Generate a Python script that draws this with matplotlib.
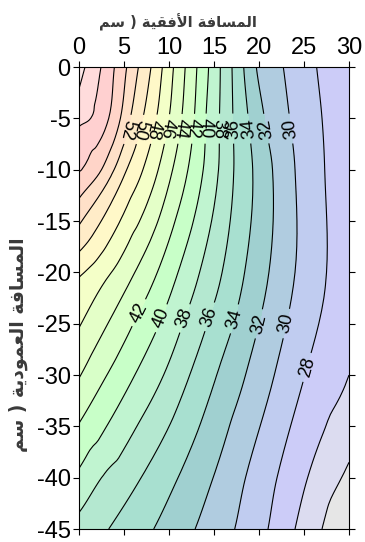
import numpy as np
import matplotlib
matplotlib.use("Agg")
import matplotlib.pyplot as plt
import matplotlib.tri as mtri

plt.rcParams["font.family"] = ["Liberation Sans", "DejaVu Sans"]
plt.rcParams["axes.unicode_minus"] = False

# ── data ─────────────────────────────────────────────────────────────────────
# depth rows (cm) and the horizontal distance (cm) where each contour crosses them
row_depths = [0, -5, -10, -20, -30, -40, -45]
row_levels = [
    [60, 58, 56, 54, 52, 50, 48, 46, 44, 42, 40, 38, 36, 34, 32, 30, 28],
    [58, 56, 54, 52, 50, 48, 46, 44, 42, 40, 38, 36, 34, 32, 30, 28],
    [56, 54, 52, 50, 48, 46, 44, 42, 40, 38, 36, 34, 32, 30, 28],
    [48, 46, 44, 42, 40, 38, 36, 34, 32, 30, 28],
    [44, 42, 40, 38, 36, 34, 32, 30, 28],
    [38, 36, 34, 32, 30, 28, 26],
    [36, 34, 32, 30, 28, 26, 24],
]
row_x = [
    [0.67, 2.44, 3.93, 5.3, 6.6, 8.0, 9.26, 10.5, 11.8, 13.1, 14.4, 15.7, 17.0, 18.3, 19.7, 22.7, 26.4],
    [1.3, 3.3, 4.6, 5.7, 7.1, 8.6, 10.0, 11.4, 12.8, 14.1, 15.6, 17.1, 18.8, 20.6, 23.4, 27.0],
    [0.3, 2.5, 3.9, 5.3, 7.1, 8.8, 10.4, 12.1, 13.8, 15.5, 17.2, 19.3, 21.5, 24.0, 27.3],
    [0.6, 3.6, 6.2, 8.7, 11.0, 13.4, 15.9, 18.4, 21.1, 24.0, 27.5],
    [0.2, 3.1, 6.2, 9.4, 12.3, 15.3, 18.5, 21.7, 25.1],
    [2.5, 6.9, 11.0, 14.9, 18.5, 22.0, 25.4],
    [3.3, 8.3, 12.9, 17.3, 21.0, 24.0, 27.0],
]
# values met along the left (x=0) and right (x=30) borders: depth, value
left_depth = [0, -2.1, -5.8, -10.2, -12.8, -15.4, -18.0, -20.5, -25.4, -30.3, -34.7, -39.1, -43.4, -45]
left_value = [61.5, 60, 58, 56, 54, 52, 50, 48, 46, 44, 42, 40, 38, 37.3]
right_depth = [0, -5, -10, -20, -30.0, -38.5, -45]
right_value = [26.1, 26.3, 26.4, 26.5, 26, 24, 22.0]

# contour labels (x, y)
label_x = [5.0, 6.4, 8.0, 9.5, 11.0, 12.5, 14.0, 15.6, 17.1, 18.9, 20.8, 23.5,
           6.8, 9.2, 11.8, 14.4, 17.1, 19.9, 23.1, 25.5]
label_y = [-6, -6, -6, -6, -6, -6, -6, -6, -6, -6, -6, -6,
           -24.0, -24.5, -24.5, -24.3, -24.5, -25.0, -25.0, -29.3]

band_colors = ["#e6e6e6", "#dcdcf0", "#ccccf8", "#c0ccf0", "#b0cce0", "#a0d0d0",
               "#a8e0d0", "#b4e8d0", "#c0f4d0", "#c8ffc8", "#d8ffc8", "#e4ffc8",
               "#f4ffc8", "#fff8c8", "#ffecc8", "#ffe0c8", "#ffd4c8", "#ffd0d0",
               "#ffdcdc", "#fde8e8", "#fff0f0"]

# Arabic axis titles, written in visual (left-to-right) order with joined letter forms
xlabel_ar = "ﻢﺳ ) ﺔﻴﻘﻓﻷﺍ ﺔﻓﺎﺴﻤﻟﺍ"
ylabel_ar = "ﻢﺳ ) ﺔﻳﺩﻮﻤﻌﻟﺍ ﺔﻓﺎﺴﻤﻟﺍ"

# ── scattered points for the triangulation ───────────────────────────────────
xs, ys, zs = [], [], []
for d, lv, xv in zip(row_depths, row_levels, row_x):
    xs += list(xv)
    ys += [d] * len(xv)
    zs += list(lv)
xs += [0.0] * len(left_depth) + [30.0] * len(right_depth)
ys += left_depth + right_depth
zs += left_value + right_value
xs, ys, zs = np.array(xs), np.array(ys), np.array(zs, dtype=float)

tri = mtri.Triangulation(xs, ys)
interp = mtri.CubicTriInterpolator(tri, zs, kind="geom")
tri_f, z_f = mtri.UniformTriRefiner(tri).refine_field(zs, triinterpolator=interp, subdiv=3)

levels = np.arange(22, 66, 2) - 1e-3

fig = plt.figure(figsize=(3.65, 5.42), dpi=100)
ax = fig.add_axes([79 / 365, 13 / 542, 270 / 365, 462 / 542])

ax.tricontourf(tri_f, z_f, levels=levels, colors=band_colors)
cs = ax.tricontour(tri_f, z_f, levels=levels, colors="k", linewidths=0.8)
texts = ax.clabel(cs, manual=list(zip(label_x, label_y)), inline=True,
                  fmt=lambda v: f"{round(v):d}", fontsize=13)
# the upper row of labels reads downwards in the original
for t in texts:
    x, y = t.get_position()
    if y > -15 and t.get_rotation() > 0:
        t.set_rotation(t.get_rotation() - 180)

ax.set_xlim(0, 30)
ax.set_ylim(-45, 0)
ax.set_xticks(range(0, 31, 5))
ax.set_yticks(range(0, -46, -5))
ax.xaxis.tick_top()
ax.tick_params(direction="out", top=True, bottom=True, left=True, right=True,
               labeltop=True, labelbottom=False, labelleft=True, labelright=False,
               length=4, width=0.8, labelsize=17, pad=2)
for s in ax.spines.values():
    s.set_linewidth(0.8)

fig.text(178 / 365, 1 - 22 / 542, xlabel_ar, family="DejaVu Sans", fontsize=10.5,
         weight="bold", ha="center", va="center", color="#3a3a3a")
fig.text(18 / 365, 1 - 345 / 542, ylabel_ar, family="DejaVu Sans", fontsize=13.5,
         weight="bold", ha="center", va="center", rotation=90, color="#3a3a3a")

fig.savefig("out.png", dpi=100)
